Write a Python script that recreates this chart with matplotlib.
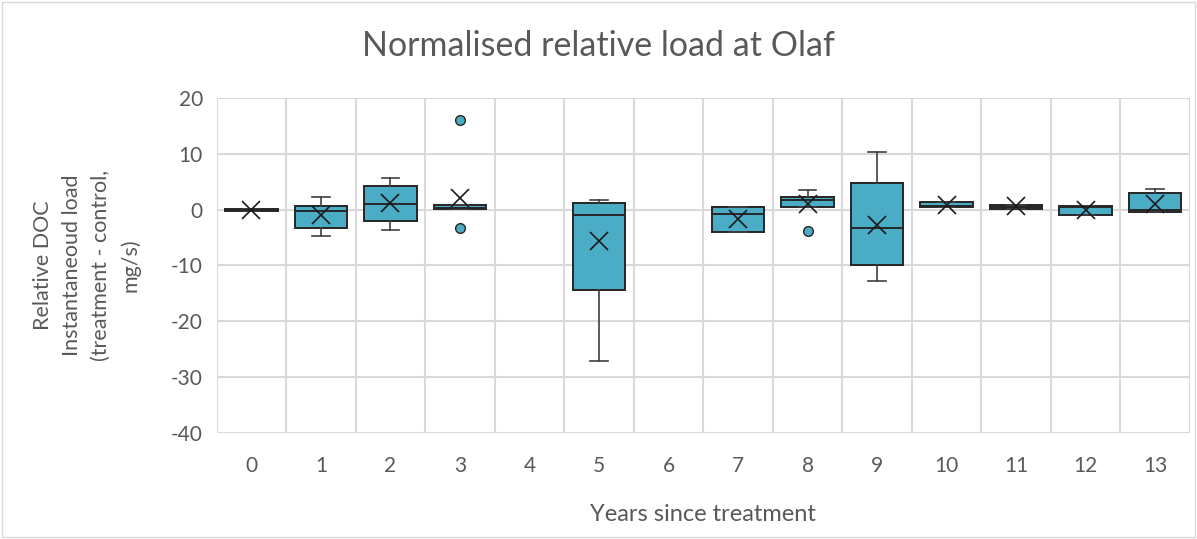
import numpy as np
import matplotlib.pyplot as plt

plt.rcParams['font.family'] = ['Lato', 'DejaVu Sans']
plt.rcParams['axes.unicode_minus'] = False

# values (mg/s)
years = list(range(14))
has_data = [1, 1, 1, 1, 0, 1, 0, 1, 1, 1, 1, 1, 1, 1]
q1 = [-0.3, -3.2, -2.1, 0.1, 0, -14.4, 0, -4.0, 0.5, -9.9, 0.4, 0.1, -1.0, -0.5]
med = [0.0, -0.2, 1.1, 0.3, 0, -0.9, 0, -0.8, 1.8, -3.3, 0.6, 0.5, 0.4, 0.0]
q3 = [0.2, 0.7, 4.2, 0.8, 0, 1.2, 0, 0.4, 2.3, 4.8, 1.4, 0.9, 0.6, 3.0]
whislo = [-0.3, -4.7, -3.6, 0.1, 0, -27.1, 0, -4.0, 0.5, -12.7, 0.4, 0.1, -1.0, -0.5]
whishi = [0.2, 2.3, 5.6, 0.8, 0, 1.7, 0, 0.4, 3.6, 10.4, 1.4, 0.9, 0.6, 3.7]
means = [0.0, -0.9, 1.2, 2.1, 0, -5.6, 0, -1.6, 1.1, -2.8, 0.8, 0.6, -0.05, 1.0]
fliers = [[], [], [], [16.0, -3.2], [], [], [], [], [-3.9], [], [], [], [], []]

box_color = '#4BACC6'
grid_color = '#D9D9D9'
text_color = '#595959'

fig = plt.figure(figsize=(11.97, 5.39), dpi=100)
ax = fig.add_axes([0.181, 0.197, 0.813, 0.621])

stats = []
pos = []
for i in years:
    if not has_data[i]:
        continue
    stats.append({'q1': q1[i], 'med': med[i], 'q3': q3[i],
                  'whislo': whislo[i], 'whishi': whishi[i],
                  'mean': means[i], 'fliers': fliers[i]})
    pos.append(i)

ax.bxp(stats, positions=pos, widths=0.76, patch_artist=True, showmeans=True,
       boxprops=dict(facecolor=box_color, edgecolor='#262626', linewidth=1.4),
       medianprops=dict(color='#262626', linewidth=1.4),
       whiskerprops=dict(color='#404040', linewidth=1.2),
       capprops=dict(color='#404040', linewidth=1.2),
       capwidths=0.25,
       meanprops=dict(marker='x', markeredgecolor='#1a1a1a', markersize=13,
                      markeredgewidth=1.2),
       flierprops=dict(marker='o', markerfacecolor=box_color,
                       markeredgecolor='#262626', markersize=7, markeredgewidth=1),
       zorder=3)

ax.set_xlim(-0.5, 13.5)
ax.set_ylim(-40, 20)
ax.set_yticks(np.arange(-40, 21, 10))
ax.set_xticks(years)
ax.set_xticklabels([str(y) for y in years])

for x in np.arange(-0.5, 14, 1):
    ax.axvline(x, color=grid_color, linewidth=1.5, zorder=0)
for y in np.arange(-40, 21, 10):
    ax.axhline(y, color=grid_color, linewidth=1.5, zorder=0)

for s in ax.spines.values():
    s.set_visible(False)
ax.tick_params(length=0, labelsize=15, colors=text_color, pad=17)
ax.tick_params(axis='y', pad=10)

fig.text(0.5, 0.915, 'Normalised relative load at Olaf', fontsize=24.5,
         color=text_color, ha='center', va='center')
ax.set_xlabel('Years since treatment', fontsize=17, color=text_color, labelpad=20)
ax.set_ylabel('Relative DOC\nInstantaneoud load\n(treatment - control,\nmg/s)',
              fontsize=15.5, color=text_color, labelpad=22, linespacing=1.55)

fig.patches.append(plt.Rectangle((0.002, 0.004), 0.996, 0.992, transform=fig.transFigure,
                                 fill=False, edgecolor='#D9D9D9', linewidth=1))

fig.savefig('out.png', dpi=100)
